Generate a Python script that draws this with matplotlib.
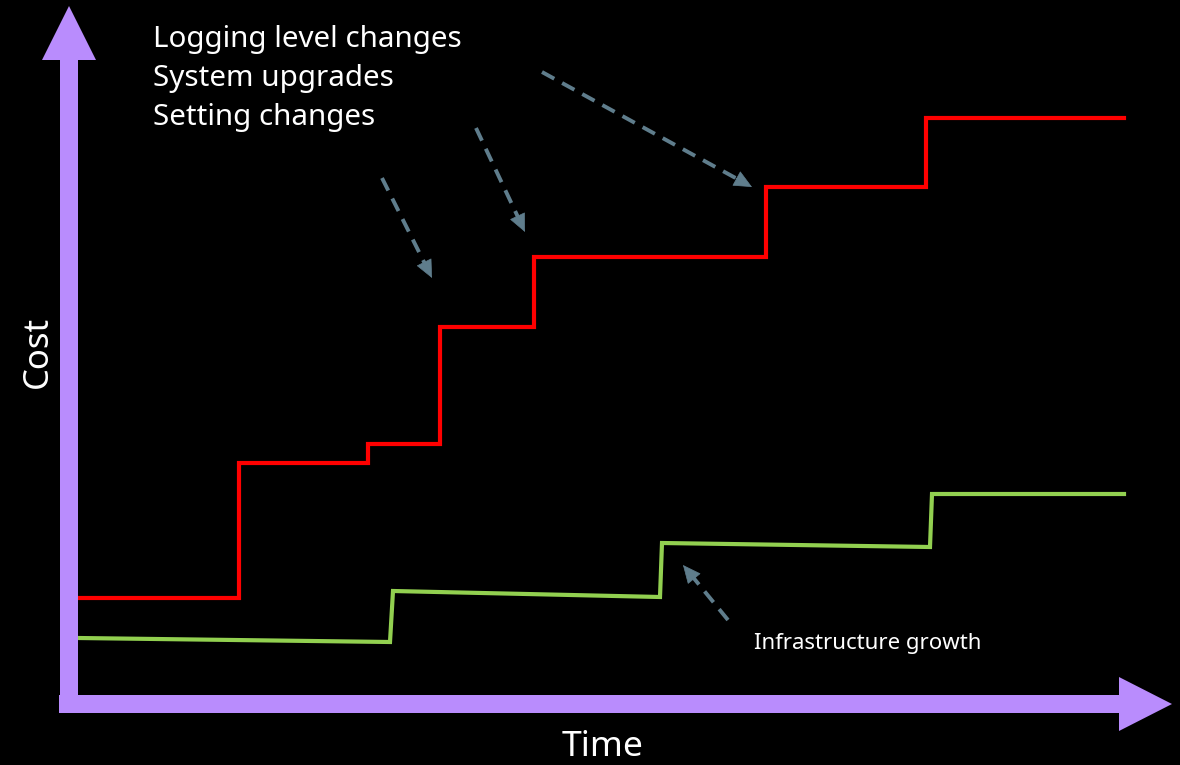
import matplotlib
matplotlib.use("Agg")
import matplotlib.pyplot as plt

# ---- data (time units / cost units) ----
red_time = [78, 239, 239, 368, 368, 440, 440, 534, 534, 766, 766, 926, 926, 1124]
red_cost = [167, 167, 302, 302, 321, 321, 438, 438, 508, 508, 578, 578, 647, 647]

green_time = [78, 390, 393, 660, 662, 930, 932, 1124]
green_cost = [127, 123, 174, 168, 222, 218, 271, 271]

labels_top = ["Logging level changes", "System upgrades", "Setting changes"]
label_infra = "Infrastructure growth"
x_label = "Time"
y_label = "Cost"

# dashed pointer arrows: (start_time, start_cost, end_time, end_cost)
pointer_start_t = [382, 476, 542, 728]
pointer_start_c = [587, 637, 693, 145]
pointer_end_t = [432, 525, 752, 683]
pointer_end_c = [487, 533, 578, 200]

PURPLE = "#b98cfd"
RED = "#ff0000"
GREEN = "#92d050"
GREY = "#5f7d8c"

fig = plt.figure(figsize=(11.8, 7.65), dpi=100, facecolor="black")
ax = fig.add_axes([0, 0, 1, 1])
ax.set_facecolor("black")
ax.set_xlim(0, 1180)
ax.set_ylim(0, 765)
ax.axis("off")

# axis arrows
ax.arrow(69, 52, 0, 707, width=18, head_width=54, head_length=54,
         length_includes_head=True, color=PURPLE, lw=0, zorder=3)
ax.arrow(59, 61, 1113, 0, width=18, head_width=54, head_length=53,
         length_includes_head=True, color=PURPLE, lw=0, zorder=3)

# series
ax.plot(red_time, red_cost, color=RED, lw=3, solid_joinstyle="miter", zorder=2)
ax.plot(green_time, green_cost, color=GREEN, lw=3, solid_joinstyle="miter", zorder=2)

# dashed pointers
for st, sc, et, ec in zip(pointer_start_t, pointer_start_c, pointer_end_t, pointer_end_c):
    dx, dy = et - st, ec - sc
    L = (dx ** 2 + dy ** 2) ** 0.5
    ux, uy = dx / L, dy / L
    ax.plot([st, et - ux * 15], [sc, ec - uy * 15], color=GREY, lw=2.8,
            dashes=(3.6, 2.3), solid_capstyle="butt", dash_capstyle="butt", zorder=2)
    ax.annotate("", xy=(et, ec), xytext=(et - ux * 20, ec - uy * 20),
                arrowprops=dict(arrowstyle="-|>,head_length=1.2,head_width=0.55",
                                color=GREY, lw=0.5, shrinkA=0, shrinkB=0), zorder=2)

# texts
font = "Noto Sans"
for i, t in enumerate(labels_top):
    ax.text(153, 726 - i * 39, t, color="white", fontsize=21.3, family=font,
            ha="left", va="center")
ax.text(754, 121, label_infra, color="white", fontsize=16, family=font,
        ha="left", va="center")
ax.text(603, 18, x_label, color="white", fontsize=25.5, family=font,
        ha="center", va="center")
ax.text(38, 413, y_label, color="white", fontsize=25, family=font,
        ha="center", va="center", rotation=90)

fig.savefig("out.png", dpi=100, facecolor="black")
